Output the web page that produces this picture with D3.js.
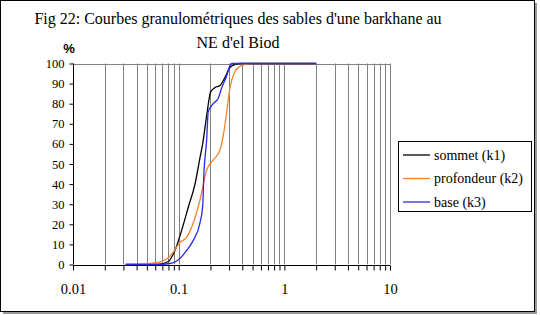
<!DOCTYPE html>
<html lang="fr">
<head>
  <meta charset="UTF-8">
  <title>Fig 22</title>
  <style>
    body { margin: 0; padding: 0; background: #fff; }
    svg { display: block; }
    .grid line { stroke: #808080; stroke-width: 1; }
    .curve { fill: none; stroke-width: 1.3; }
  </style>
</head>
<body>
  <div id="chart"></div>
  <script src="https://d3js.org/d3.v7.min.js"></script>
  <script>
    // grain size (mm) / cumulative %
    const sommet = [
      [0.0315, 0], [0.063, 0], [0.08, 1.5], [0.0865, 4], [0.0922, 7], [0.1067, 17],
      [0.1225, 28], [0.1427, 40], [0.159, 53], [0.1687, 60], [0.184, 74], [0.201, 86],
      [0.2205, 88], [0.246, 89], [0.274, 93], [0.306, 98], [0.341, 99.5], [0.38, 100], [2, 100]
    ];
    const profondeur = [
      [0.0315, 0], [0.05, 0.3], [0.063, 1], [0.077, 2.7], [0.0887, 6], [0.1028, 11],
      [0.119, 13.5], [0.1374, 20.6], [0.159, 32], [0.184, 47], [0.2125, 52], [0.246, 57],
      [0.264, 64], [0.285, 76], [0.306, 88], [0.341, 96], [0.38, 98.5], [0.424, 99.5], [0.5, 100], [2, 100]
    ];
    const base = [
      [0.0315, 0], [0.063, 0], [0.0827, 0.5], [0.0991, 2.2], [0.119, 7], [0.1374, 12],
      [0.159, 20.6], [0.1687, 28.8], [0.1734, 45.5], [0.184, 62], [0.1905, 76], [0.2125, 80],
      [0.237, 82.7], [0.2553, 87.8], [0.285, 94], [0.306, 99], [0.32, 100], [2, 100]
    ];
    const seriesNames = ["sommet (k1)", "profondeur (k2)", "base (k3)"];
    const seriesColors = ["#000000", "#f5822a", "#2a2ae6"];
    const xLabels = [0.01, 0.1, 1, 10];
    const yTicks = d3.range(0, 101, 10);

    const width = 540, height = 315;
    const serif = "'Liberation Serif'";

    const svg = d3.select("#chart").append("svg")
      .attr("width", width)
      .attr("height", height);

    // frame with a little shadow
    svg.append("rect").attr("x", 3).attr("y", 3).attr("width", 534).attr("height", 311)
      .attr("fill", "#9a9a9a");
    svg.append("rect").attr("x", 0.5).attr("y", 0.5).attr("width", 534).attr("height", 311)
      .attr("fill", "#fff").attr("stroke", "#000");

    const x = d3.scaleLog().domain([0.01, 10]).range([73, 390]);
    const y = d3.scaleLinear().domain([0, 100]).range([264.5, 63.5]);

    // vertical grid
    svg.append("g").attr("class", "grid")
      .selectAll("line")
      .data(x.ticks().filter(d => d > 0.01))
      .enter().append("line")
      .attr("x1", d => Math.round(x(d)) + 0.5)
      .attr("x2", d => Math.round(x(d)) + 0.5)
      .attr("y1", y(100))
      .attr("y2", y(0));

    svg.append("line")
      .attr("x1", x(0.01)).attr("x2", x(10))
      .attr("y1", Math.round(y(100)) + 0.5).attr("y2", Math.round(y(100)) + 0.5)
      .attr("stroke", "#808080");

    // axes
    const xAxis = svg.append("g")
      .attr("transform", `translate(0,${Math.round(y(0)) + 0.5})`)
      .call(d3.axisBottom(x)
        .tickValues(x.ticks())
        .tickSize(5)
        .tickPadding(13)
        .tickFormat(d => xLabels.includes(d) ? String(d) : ""));
    xAxis.select(".domain").attr("d", `M${x(0.01)},0H${x(10)}`);
    xAxis.selectAll(".tick text").style("font-size", "14.5px");

    const yAxis = svg.append("g")
      .attr("transform", `translate(${Math.round(x(0.01)) + 0.5},0)`)
      .call(d3.axisLeft(y).tickValues(yTicks).tickSize(4).tickPadding(5));
    yAxis.select(".domain").attr("d", `M0,${y(0)}V${y(100)}`);
    yAxis.selectAll(".tick text").style("font-size", "12.5px");

    svg.selectAll(".tick text")
      .style("font-family", serif)
      .attr("fill", "#000");
    svg.selectAll(".tick line, .domain").attr("stroke", "#000");

    // curves
    const line = d3.line()
      .x(d => x(d[0]))
      .y(d => y(d[1]))
      .curve(d3.curveMonotoneX);

    [sommet, profondeur, base].forEach((s, i) => {
      svg.append("path")
        .datum(s)
        .attr("class", "curve")
        .attr("stroke", seriesColors[i])
        .attr("d", line);
    });

    // title
    const title = svg.append("text")
      .attr("text-anchor", "middle")
      .style("font-family", serif)
      .style("font-size", "16px");
    title.append("tspan").attr("x", 238).attr("y", 24)
      .text("Fig 22: Courbes granulométriques des sables d'une barkhane au");
    title.append("tspan").attr("x", 238).attr("y", 48)
      .text("NE d'el Biod");

    svg.append("text")
      .attr("x", 69).attr("y", 53)
      .attr("text-anchor", "middle")
      .style("font-family", "'Liberation Sans'")
      .style("font-weight", "bold")
      .style("font-size", "13px")
      .text("%");

    // legend
    const legend = svg.append("g");
    legend.append("rect")
      .attr("x", 398.5).attr("y", 141.5).attr("width", 133).attr("height", 70)
      .attr("fill", "#fff").attr("stroke", "#000");
    seriesNames.forEach((name, i) => {
      const ly = 155 + i * 23.5;
      legend.append("line")
        .attr("x1", 403).attr("x2", 430)
        .attr("y1", ly).attr("y2", ly)
        .attr("stroke", seriesColors[i]).attr("stroke-width", 1.3);
      legend.append("text")
        .attr("x", 434).attr("y", ly + 4.5)
        .style("font-family", serif)
        .style("font-size", "14px")
        .text(name);
    });
  </script>
</body>
</html>
